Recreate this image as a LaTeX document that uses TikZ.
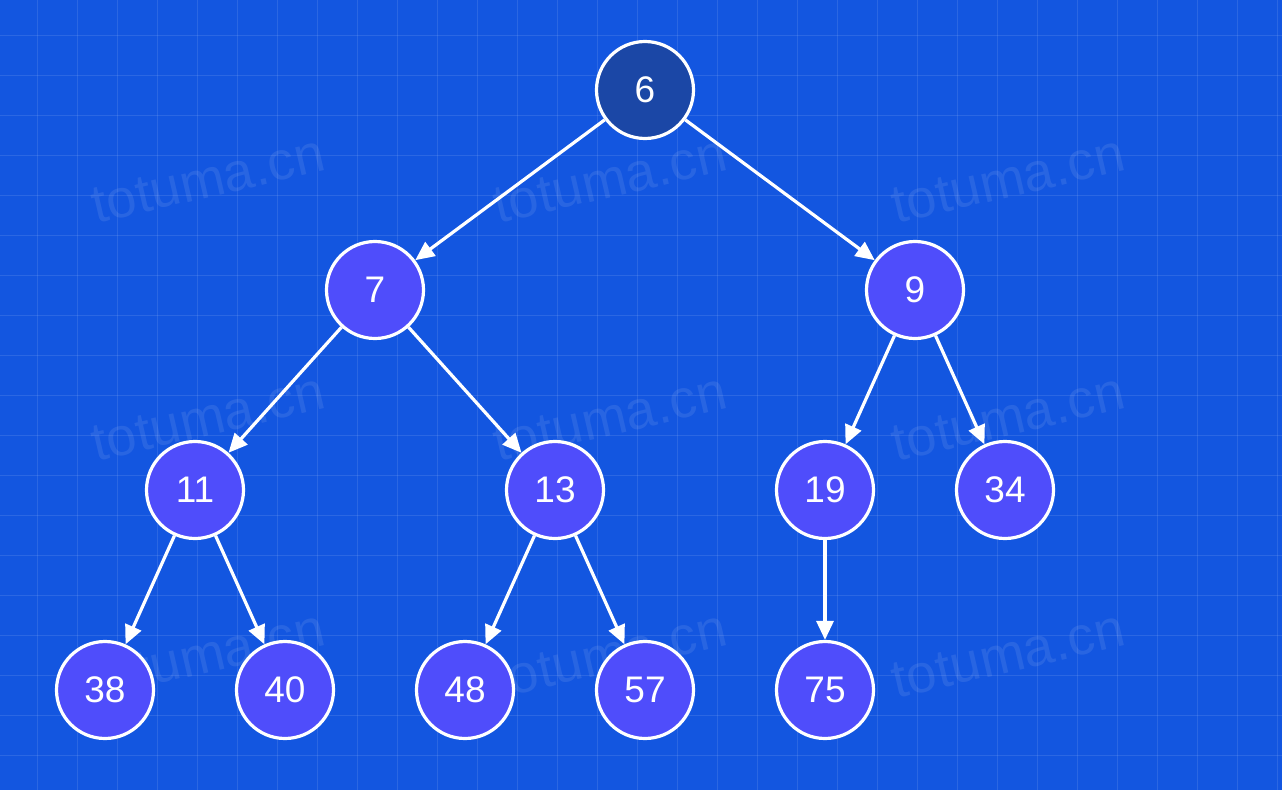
\documentclass[tikz,border=0pt]{standalone}
\usepackage{fontspec}
\setmainfont{Liberation Sans}
\usetikzlibrary{arrows.meta}
\definecolor{bgblue}{HTML}{1356E0}
\definecolor{rootfill}{HTML}{1B47A6}
\definecolor{nodefill}{HTML}{4F4DFB}
\tikzset{
  treenode/.style={circle, draw=white, line width=3.2pt, fill=nodefill, minimum size=97pt, inner sep=0pt, text=white, font=\fontsize{37}{40}\selectfont},
  rootnode/.style={treenode, fill=rootfill},
  edge/.style={draw=white, line width=3.2pt, -{Triangle[length=19pt,width=17pt]}},
  watermark/.style={text=white, text opacity=0.09, font=\fontsize{54}{56}\selectfont, rotate=13},
  gridline/.style={draw=white, draw opacity=0.1, line width=1pt}
}
\begin{document}
\begin{tikzpicture}[x=1pt,y=-1pt]
\useasboundingbox (0,0) rectangle (1282,790);
\fill[bgblue] (0,0) rectangle (1282,790);
% grid
\foreach \gx in {37,77,...,1277} {\draw[gridline] (\gx,0) -- (\gx,790);}
\foreach \gy in {35,75,...,785} {\draw[gridline] (0,\gy) -- (1282,\gy);}
% watermarks
\foreach \wx in {208,610,1008} {
  \foreach \wy in {180,418,655} {
    \node[watermark] at (\wx,\wy) {totuma.cn};
  }
}
% nodes
\node[rootnode] (n6) at (645,90) {6};
\node[treenode] (n7) at (375,290) {7};
\node[treenode] (n9) at (915,290) {9};
\node[treenode] (n11) at (195,490) {11};
\node[treenode] (n13) at (555,490) {13};
\node[treenode] (n19) at (825,490) {19};
\node[treenode] (n34) at (1005,490) {34};
\node[treenode] (n38) at (105,690) {38};
\node[treenode] (n40) at (285,690) {40};
\node[treenode] (n48) at (465,690) {48};
\node[treenode] (n57) at (645,690) {57};
\node[treenode] (n75) at (825,690) {75};
% edges
\draw[edge] (n6) -- (n7);
\draw[edge] (n6) -- (n9);
\draw[edge] (n7) -- (n11);
\draw[edge] (n7) -- (n13);
\draw[edge] (n9) -- (n19);
\draw[edge] (n9) -- (n34);
\draw[edge] (n11) -- (n38);
\draw[edge] (n11) -- (n40);
\draw[edge] (n13) -- (n48);
\draw[edge] (n13) -- (n57);
\draw[edge] (n19) -- (n75);
\end{tikzpicture}
\end{document}
